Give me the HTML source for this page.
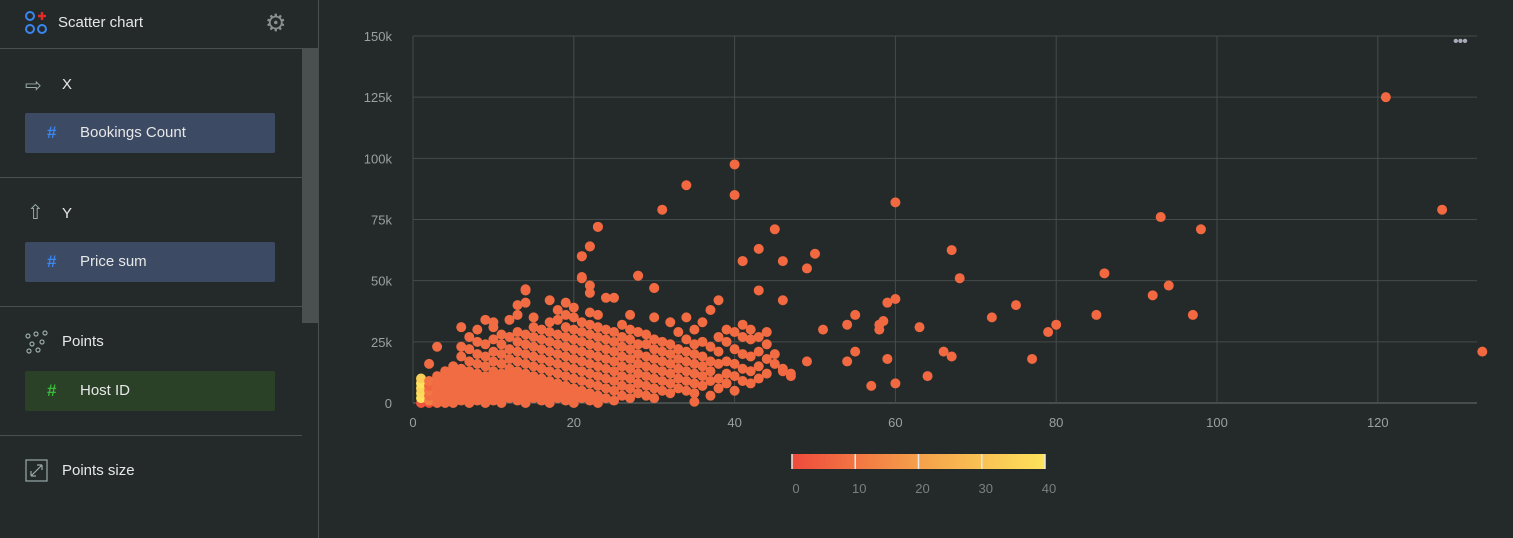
<!DOCTYPE html>
<html><head><meta charset="utf-8"><style>
body{margin:0;width:1513px;height:538px;background:#242a29;font-family:"Liberation Sans",sans-serif;overflow:hidden;position:relative}
.side{position:absolute;left:0;top:0;width:318px;height:538px;border-right:1px solid #4a5050}
.hdr{position:absolute;left:0;top:0;width:318px;height:48px;border-bottom:1px solid #4a5050}
.t{position:absolute;color:#e6e8e8;font-size:15px}
.sep{position:absolute;left:0;width:302px;height:1px;background:#4a5050}
.pill{position:absolute;left:25px;width:250px;height:40px;border-radius:2px;color:#e6e8e8;font-size:15px;line-height:40px}
.pill span.h{position:absolute;left:22px;font-weight:bold;font-size:17px}
.pill span.l{position:absolute;left:55px}
</style></head><body>
<div class="side">
 <div class="hdr">
  <svg style="position:absolute;left:25px;top:11px" width="24" height="24">
   <circle cx="5" cy="5" r="4" fill="none" stroke="#3a86f0" stroke-width="2"/><circle cx="5" cy="18" r="4" fill="none" stroke="#3a86f0" stroke-width="2"/><circle cx="17" cy="18" r="4" fill="none" stroke="#3a86f0" stroke-width="2"/>
   <path d="M17 1v8M13 5h8" stroke="#e52828" stroke-width="2.4"/></svg>
  <div class="t" style="left:58px;top:14px">Scatter chart</div>
  <div style="position:absolute;left:265px;top:9px;color:#8a9090;font-size:24px">⚙</div>
 </div>
 <div style="position:absolute;left:302px;top:48px;width:16px;height:275px;background:#4a4f4f"></div>
 <div class="t" style="left:25px;top:73px;color:#9aa;font-size:20px">⇨</div>
 <div class="t" style="left:62px;top:76px">X</div>
 <div class="pill" style="top:113px;background:#3d4a63"><span class="h" style="color:#3a86f0">#</span><span class="l">Bookings Count</span></div>
 <div class="sep" style="top:177px"></div>
 <div class="t" style="left:27px;top:200px;color:#9aa;font-size:20px">⇧</div>
 <div class="t" style="left:62px;top:205px">Y</div>
 <div class="pill" style="top:242px;background:#3d4a63"><span class="h" style="color:#3a86f0">#</span><span class="l">Price sum</span></div>
 <div class="sep" style="top:306px"></div>
 <svg style="position:absolute;left:25px;top:330px" width="24" height="24"><g fill="none" stroke="#9aa" stroke-width="1.2"><circle cx="3" cy="6" r="2"/><circle cx="11" cy="4" r="2"/><circle cx="20" cy="3" r="2"/><circle cx="7" cy="14" r="2"/><circle cx="17" cy="12" r="2"/><circle cx="4" cy="21" r="2"/><circle cx="13" cy="20" r="2"/></g></svg>
 <div class="t" style="left:62px;top:333px">Points</div>
 <div class="pill" style="top:371px;background:#2a4128"><span class="h" style="color:#3cb83c">#</span><span class="l">Host ID</span></div>
 <div class="sep" style="top:435px;width:302px"></div>
 <svg style="position:absolute;left:25px;top:459px" width="23" height="23"><rect x="1" y="1" width="21" height="21" fill="none" stroke="#9aa" stroke-width="1.2"/><path d="M6 17L17 6M6 17v-5M6 17h5M17 6h-5M17 6v5" stroke="#9aa" stroke-width="1.2" fill="none"/></svg>
 <div class="t" style="left:62px;top:462px">Points size</div>
</div>
<div style="position:absolute;left:1453px;top:33px;color:#aab;font-size:16px;letter-spacing:-1px">•••</div>
<svg id="chart" style="position:absolute;left:0;top:0" width="1513" height="538">
<defs><linearGradient id="lg"><stop offset="0" stop-color="#ef4a3c"/><stop offset="0.5" stop-color="#f5a04a"/><stop offset="1" stop-color="#fde35c"/></linearGradient></defs>
</svg>
<script>
const xTicks=[0,20,40,60,80,100,120];
const yTicks=[0,25,50,75,100,125,150];
const yTickLabels=["0","25k","50k","75k","100k","125k","150k"];
const legendTicks=[0,10,20,30,40];
const outX=[121,128,133,93,98,92,94,97,86,85,80,79,77,75,72,68,67,67,66,64,63,60,60,59,58.5,58,58,59,60,57,55,54,54,55,51,50,49,49,46,46,45,47,46,43,43,41,40,40,34,31,23,22,21,21,28,30,14,35];
const outY=[125,79,21,76,71,44,48,36,53,36,32,29,18,40,35,51,62.5,19,21,11,31,82,42.5,41,33.5,30,32,18,8,7,21,17,32,36,30,61,55,17,58,42,71,11,13,63,46,58,97.5,85,89,79,72,64,60,51.5,52,47,46.5,0.5];
const clusterCols={1:[0,2,4,6,8,10],2:[0,1,3,5,7,9,16],3:[0,2,4,6,8,11,23],4:[0,1,3,5,7,10,13],5:[0,2,4,6,9,12,15],6:[1,3,5,8,11,14,19,23,31],7:[0,2,4,7,10,13,17,22,27],8:[1,3,6,9,12,16,20,25,30],9:[0,2,5,8,11,15,19,24,34],10:[1,4,7,10,13,17,21,26,31,33],11:[0,3,6,9,12,16,20,24,28],12:[2,5,8,11,14,18,22,27,34],13:[1,4,7,10,13,17,21,25,29,36,40],14:[0,3,6,9,12,16,20,24,28,41,46],15:[2,5,8,11,15,19,23,27,31,35],16:[1,4,7,10,14,18,22,26,30],17:[0,3,6,9,13,17,21,25,29,33,42],18:[2,5,8,12,16,20,24,28,34,38],19:[1,4,7,11,15,19,23,27,31,36,41],20:[0,3,6,10,14,18,22,26,30,35,39],21:[2,5,9,13,17,21,25,29,33,51,60],22:[1,4,8,12,16,20,24,28,32,37,45,48,64],23:[0,3,7,11,15,19,23,27,31,36,72],24:[2,6,10,14,18,22,26,30,43],25:[1,5,9,13,17,21,25,29,43],26:[3,7,11,15,19,23,27,32],27:[2,6,10,14,18,22,26,30,36],28:[4,8,12,16,20,24,29,52],29:[3,7,11,15,19,24,28],30:[2,6,10,14,18,22,26,35,47],31:[5,9,13,17,21,25],32:[4,8,12,16,20,24,33],33:[6,10,14,18,22,29],34:[5,9,13,17,21,26,35],35:[4,8,12,16,20,24,30],36:[7,11,15,19,25,33],37:[3,9,13,17,23,38],38:[6,10,16,21,27,42],39:[8,12,17,25,30],40:[5,11,16,22,29],41:[9,14,20,27,32,58],42:[8,13,19,26,30],43:[10,15,21,27],44:[12,18,24,29],45:[16,20],46:[14],47:[12]};
const col1Colors=[2,40,38,36,40,34];
const col2Colors=[1,12,8,10,6,9,8];
const NS="http://www.w3.org/2000/svg";
const svg=document.getElementById('chart');
const L=413,R=1477,T=36,B=403;
const xs=v=>L+v*8.04, ys=v=>B-v*(B-T)/150;
function colr(c){const t=Math.max(0,Math.min(1,c/40));const a=[239,74,60],m=[245,160,74],z=[253,227,92];let p,q,u;if(t<.5){p=a;q=m;u=t*2}else{p=m;q=z;u=(t-.5)*2}return 'rgb('+p.map((v,i)=>Math.round(v+(q[i]-v)*u)).join(',')+')'}
function mk(tag,at){const e=document.createElementNS(NS,tag);for(const k in at)e.setAttribute(k,at[k]);svg.appendChild(e);return e}
yTicks.forEach((t,i)=>{const g=mk('line',{x1:L,x2:R,y1:ys(t),y2:ys(t),stroke:i==0?'#6a7070':'#454b4b'});


const tx=mk('text',{x:392,y:ys(t)+5,'text-anchor':'end',fill:'#9aa0a0','font-size':13,'font-family':'Liberation Sans'});tx.textContent=yTickLabels[i];

});
xTicks.forEach(t=>{const g=mk('line',{x1:xs(t),x2:xs(t),y1:T,y2:B,stroke:'#454b4b'});


const tx=mk('text',{x:xs(t),y:427,'text-anchor':'middle',fill:'#9aa0a0','font-size':13,'font-family':'Liberation Sans'});tx.textContent=t;

});
function dot(x,y,c){const d=mk('circle',{cx:xs(x),cy:ys(y),r:5,fill:colr(c)});

}
Object.keys(clusterCols).forEach(k=>{const x=+k;clusterCols[k].forEach((y,j)=>{let c=8;if(x==1)c=col1Colors[j];else if(x==2)c=col2Colors[j];dot(x,y,c)})});
outX.forEach((x,i)=>dot(x,outY[i],7));
const lb=mk('rect',{x:792,y:454,width:253,height:15,fill:'url(#lg)'});


legendTicks.forEach(t=>{const x=792+t/40*253;const l=mk('line',{x1:x,x2:x,y1:454,y2:469,stroke:'#e8e8e8','stroke-width':1.5});


const tx=mk('text',{x:x+4,y:493,'text-anchor':'middle',fill:'#7a8080','font-size':13,'font-family':'Liberation Sans'});tx.textContent=t;

});
</script>
</body></html>
